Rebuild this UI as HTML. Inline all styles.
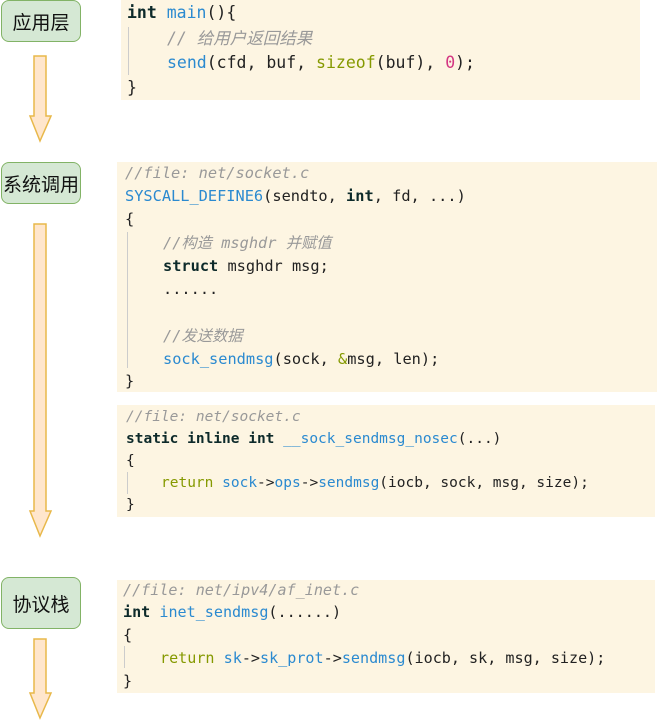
<!DOCTYPE html>
<html><head><meta charset="utf-8"><style>
body{margin:0;width:659px;height:720px;background:#fff;position:relative;overflow:hidden;font-family:"DejaVu Sans Mono","Liberation Mono",monospace;}
.lbl{position:absolute;left:1px;width:78px;background:#d5e8d4;border:1.5px solid #82b366;border-radius:8px;font-family:"Liberation Sans","Noto Sans CJK SC",sans-serif;font-size:19px;color:#111;display:flex;align-items:center;justify-content:center;}
.code{position:absolute;background:#fdf5e2;color:#222;white-space:pre;}
.code div{position:absolute;left:0;line-height:1.2;}
.k{font-weight:bold;color:#0d2a2a}
.f{color:#2b8ad0}
.c{color:#999;font-style:italic}
.o{color:#859900}
.m{color:#d33682}
.g{position:absolute;width:1px;background:#ccc}
</style></head><body>
<div class="lbl" style="top:0;height:40px">应用层</div>
<div class="lbl" style="top:162px;height:40px">系统调用</div>
<div class="lbl" style="top:577px;height:50px">协议栈</div>

<svg width="60" height="720" style="position:absolute;left:0;top:0">
<g fill="#ffe6cc" stroke="#e8b84a" stroke-width="1.5">
<polygon points="34,56 46,56 46,116 51,116 40,141 30,116 34,116"/>
<polygon points="34,224 46,224 46,511 51,511 40,536 30,511 34,511"/>
<polygon points="34,639 46,639 46,693 51,693 40,718 30,693 34,693"/>
</g></svg>

<div class="code" style="left:121px;top:0;width:519px;height:100px;font-size:16.5px">
<div style="left:6px;top:3px" ><span class="k">int</span> <span class="f">main</span>(){</div>
<div style="left:46px;top:29px"><span class="c">// 给用户返回结果</span></div>
<div style="left:46px;top:53px"><span class="f">send</span>(cfd, buf, <span class="o">sizeof</span>(buf), <span class="m">0</span>);</div>
<div style="left:6px;top:78px">}</div>
</div>
<div class="g" style="left:128px;top:27px;height:48px"></div>

<div class="code" style="left:117px;top:162px;width:540px;height:230px;font-size:15.3px">
<div style="left:8px;top:2px"><span class="c">//file: net/socket.c</span></div>
<div style="left:8px;top:25px"><span class="f">SYSCALL_DEFINE6</span>(sendto, <span class="k">int</span>, fd, ...)</div>
<div style="left:8px;top:48px">{</div>
<div style="left:46px;top:72px"><span class="c">//构造 msghdr 并赋值</span></div>
<div style="left:46px;top:95px"><span class="k">struct</span> msghdr msg;</div>
<div style="left:46px;top:118px">......</div>
<div style="left:46px;top:165px"><span class="c">//发送数据</span></div>
<div style="left:46px;top:188px"><span class="f">sock_sendmsg</span>(sock, <span class="o">&amp;</span>msg, len);</div>
<div style="left:8px;top:210px">}</div>
</div>
<div class="g" style="left:127px;top:232px;height:136px"></div>

<div class="code" style="left:117px;top:405px;width:538px;height:112px;font-size:14.5px">
<div style="left:9px;top:4px"><span class="c">//file: net/socket.c</span></div>
<div style="left:9px;top:26px"><span class="k">static inline int</span> <span class="f">__sock_sendmsg_nosec</span>(...)</div>
<div style="left:9px;top:48px">{</div>
<div style="left:44px;top:70px"><span class="o">return</span> <span class="f">sock</span>-&gt;<span class="f">ops</span>-&gt;<span class="f">sendmsg</span>(iocb, sock, msg, size);</div>
<div style="left:9px;top:92px">}</div>
</div>
<div class="g" style="left:127px;top:472px;height:22px"></div>

<div class="code" style="left:117px;top:580px;width:538px;height:113px;font-size:15.1px">
<div style="left:6px;top:1px"><span class="c">//file: net/ipv4/af_inet.c</span></div>
<div style="left:6px;top:23px"><span class="k">int</span> <span class="f">inet_sendmsg</span>(......)</div>
<div style="left:6px;top:46px">{</div>
<div style="left:43px;top:69px"><span class="o">return</span> <span class="f">sk</span>-&gt;<span class="f">sk_prot</span>-&gt;<span class="f">sendmsg</span>(iocb, sk, msg, size);</div>
<div style="left:6px;top:92px">}</div>
</div>
<div class="g" style="left:124px;top:646px;height:22px"></div>
</body></html>
